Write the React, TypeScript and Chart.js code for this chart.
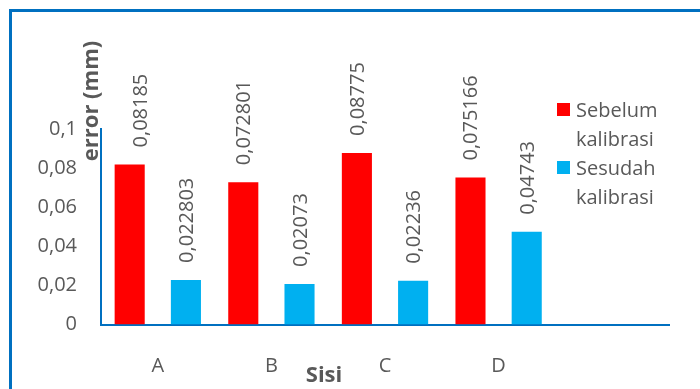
import React, { useEffect, useRef } from "react";
import { Chart, registerables } from "chart.js";

Chart.register(...registerables);

const categories = ["A", "B", "C", "D", ""];
const sebelum = [0.08185, 0.072801, 0.08775, 0.075166, null];
const sesudah = [0.022803, 0.02073, 0.02236, 0.04743, null];
const seriesNames = ["Sebelum kalibrasi", "Sesudah kalibrasi"];
const yTickLabels = ["0", "0,02", "0,04", "0,06", "0,08", "0,1"];
const yTitle = "error (mm)";
const xTitle = "Sisi";

const TEXT = "#595959";
const AXIS = "#0070C0";
const FONT = "'Open Sans', sans-serif";

const decorPlugin = {
  id: "decor",
  beforeDraw(chart: any) {
    const ctx = chart.ctx;
    ctx.save();
    ctx.fillStyle = "#ffffff";
    ctx.fillRect(0, 0, chart.width, chart.height);
    ctx.strokeStyle = AXIS;
    ctx.lineWidth = 3;
    ctx.beginPath();
    ctx.moveTo(10.5, chart.height);
    ctx.lineTo(10.5, 10.5);
    ctx.lineTo(chart.width, 10.5);
    ctx.stroke();
    ctx.restore();
  },
  afterDatasetsDraw(chart: any) {
    const ctx = chart.ctx;
    ctx.save();
    ctx.font = `20px ${FONT}`;
    ctx.fillStyle = TEXT;
    ctx.textAlign = "left";
    ctx.textBaseline = "alphabetic";
    chart.data.datasets.forEach((ds: any, di: number) => {
      const meta = chart.getDatasetMeta(di);
      meta.data.forEach((el: any, i: number) => {
        const v = ds.data[i];
        if (v === null || v === undefined) return;
        const dx = di === 0 && i === 0 ? 10 : 0;
        const txt = String(v).replace(".", ",");
        ctx.save();
        ctx.translate(el.x + 7 + dx, el.y - 17);
        ctx.rotate(-Math.PI / 2);
        ctx.fillText(txt, 0, 0);
        ctx.restore();
      });
    });
    ctx.restore();
  },
  afterDraw(chart: any) {
    const ctx = chart.ctx;
    ctx.save();
    // axis titles
    ctx.fillStyle = TEXT;
    ctx.font = `bold 22px ${FONT}`;
    ctx.textAlign = "center";
    ctx.textBaseline = "middle";
    ctx.save();
    ctx.translate(92, 101);
    ctx.rotate(-Math.PI / 2);
    ctx.fillText(yTitle, 0, 0);
    ctx.restore();
    ctx.textBaseline = "alphabetic";
    ctx.fillText(xTitle, 324, 382);
    // legend
    ctx.font = `20px ${FONT}`;
    ctx.textAlign = "left";
    chart.data.datasets.forEach((ds: any, di: number) => {
      const baseY = 117 + di * 58;
      ctx.fillStyle = ds.backgroundColor;
      ctx.fillRect(557, baseY - 14, 13, 13);
      ctx.fillStyle = TEXT;
      const lines = String(ds.label).split(" ");
      lines.forEach((ln: string, li: number) => {
        ctx.fillText(ln, 576, baseY + li * 29);
      });
    });
    ctx.restore();
  },
};

export default function App() {
  const ref = useRef<HTMLCanvasElement>(null);
  useEffect(() => {
    if (!ref.current) return;
    const chart = new Chart(ref.current, {
      type: "bar",
      data: {
        labels: categories,
        datasets: [
          {
            label: seriesNames[0],
            data: sebelum,
            backgroundColor: "#FF0000",
            categoryPercentage: 0.99,
            barPercentage: 0.535,
          },
          {
            label: seriesNames[1],
            data: sesudah,
            backgroundColor: "#00B0F0",
            categoryPercentage: 0.99,
            barPercentage: 0.535,
          },
        ],
      },
      options: {
        animation: false,
        responsive: false,
        layout: { padding: { top: 129, right: 31, bottom: 0, left: 0 } },
        plugins: {
          legend: { display: false },
          tooltip: { enabled: false },
        },
        scales: {
          x: {
            grid: { display: false, drawTicks: false },
            border: { display: true, color: AXIS, width: 2 },
            ticks: {
              color: TEXT,
              font: { family: FONT, size: 20 },
              padding: 30,
              maxRotation: 0,
              autoSkip: false,
            },
            afterFit(scale: any) {
              scale.height = 64.5;
            },
          },
          y: {
            min: 0,
            max: 0.1,
            grid: { display: false, drawTicks: false },
            border: { display: true, color: AXIS, width: 2 },
            ticks: {
              stepSize: 0.02,
              color: TEXT,
              font: { family: FONT, size: 20 },
              padding: 24,
              callback: (_v: any, i: number) => yTickLabels[i],
            },
            afterFit(scale: any) {
              scale.width = 101;
            },
          },
        },
      },
      plugins: [decorPlugin],
    });
    return () => chart.destroy();
  }, []);
  return (
    <div style={{ position: "fixed", left: 0, top: 0, width: 700, height: 389, background: "#fff" }}>
      <canvas ref={ref} width={700} height={389} style={{ display: "block" }} />
    </div>
  );
}
